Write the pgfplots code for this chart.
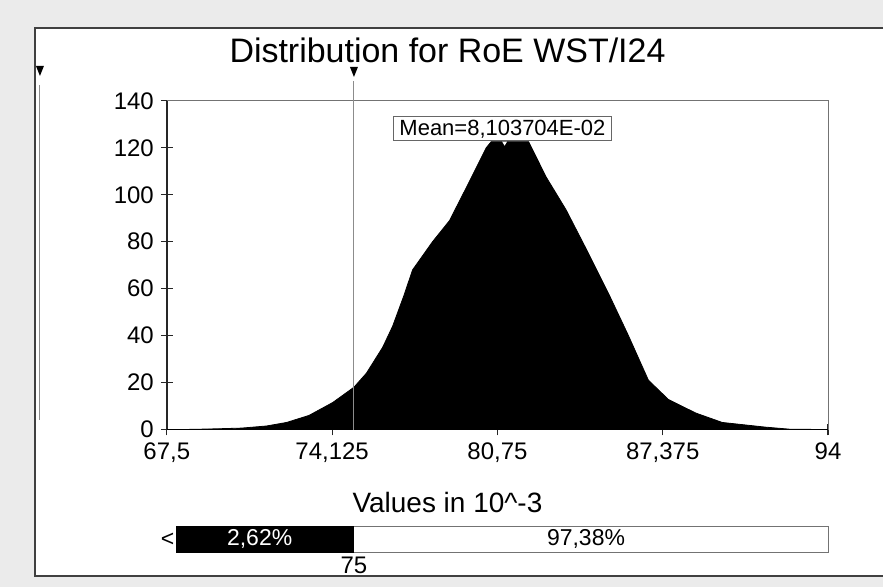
\documentclass[border=0pt]{standalone}
\usepackage{pgfplots}
\pgfplotsset{compat=1.18}
\usepackage{fontspec}
\setmainfont{Liberation Sans}
\begin{document}
\begin{tikzpicture}[x=0.5pt,y=0.5pt]
% background and window frame
\fill[black!8] (0,0) rectangle (884,588);
\fill[white] (35,11) rectangle (884,560);
\draw[black!75, line width=1pt] (884,560) -- (35,560) -- (35,11) -- (884,11);
% title
\node at (448,538) {\fontsize{17}{20}\selectfont Distribution for RoE WST/I24};
% left delimiter
\draw[black!45, line width=0.5pt] (40,503) -- (40,168);
\fill[black] (36,522) -- (44,522) -- (40,512) -- cycle;
% main axis
\begin{axis}[
  at={(83.5pt,79pt)}, anchor=south west,
  scale only axis, width=331pt, height=164.5pt,
  xmin=67.5, xmax=94, ymin=0, ymax=140,
  axis x line*=bottom, axis y line*=left,
  axis line style={black!85, line width=0.8pt},
  xtick={67.5,74.125,80.75,87.375,94},
  xticklabels={{67,5},{74,125},{80,75},{87,375},94},
  ytick={0,20,...,140},
  tick align=center, major tick length=6pt,
  tick style={black!85, line width=0.6pt},
  ticklabel style={font=\fontsize{12}{14}\selectfont},
  /pgf/number format/assume math mode=true,
  clip=false,
]
\addplot[fill=black, draw=black, line width=0.4pt] coordinates {
(67.5,0) (68.5,0.05) (69.5,0.3) (70.5,0.6) (71.5,1.5) (72.3,3) (73.2,6)
(74.15,11.5) (75.0,18) (75.5,24) (76.15,35) (76.55,44) (77.0,57) (77.35,68)
(78.15,80) (78.83,89) (79.5,103) (80.3,120) (80.5,122.6) (81.0,122.6)
(82.0,122.6) (82.7,107.6) (83.5,93.6) (84.4,75) (85.2,58) (86.0,40)
(86.8,21) (87.6,12.8) (88.7,7) (89.76,3) (91.5,1) (92.5,0.1) (94,0)
} \closedcycle;
% top and right frame lines
\draw[black!55, line width=0.5pt] (axis cs:67.5,140) -- (axis cs:94,140) -- (axis cs:94,0);
% delimiter at 75
\draw[black!45, line width=0.5pt] (axis cs:75,0) -- ([yshift=10pt]axis cs:75,140);
\fill[black] ([xshift=-2pt,yshift=17pt]axis cs:75,140) -- ([xshift=2pt,yshift=17pt]axis cs:75,140) -- ([yshift=12pt]axis cs:75,140) -- cycle;
% mean marker
\fill[white] ([xshift=-1.2pt]axis cs:81.037,122.6) -- ([xshift=1.2pt]axis cs:81.037,122.6) -- ([yshift=-2pt]axis cs:81.037,122.6) -- cycle;
\end{axis}
% mean label
\node[draw=black!60, fill=white, inner xsep=3pt, inner ysep=1.5pt, line width=0.5pt] at (503,459) {\fontsize{11}{13}\selectfont Mean=8,103704E-02};
% x label
\node at (448,85) {\fontsize{14}{16}\selectfont Values in 10\textasciicircum-3};
% percentile bar
\begin{axis}[
  at={(83.5pt,17.5pt)}, anchor=south west,
  scale only axis, width=331pt, height=13pt,
  xmin=67.5, xmax=94, ymin=0, ymax=1,
  hide axis, clip=false,
]
\addplot[fill=white, draw=black!55, line width=0.5pt] coordinates {(75,0) (94,0) (94,1) (75,1)} -- cycle;
\addplot[fill=black, draw=black, line width=0.5pt] coordinates {(67.9,0) (75,0) (75,1) (67.9,1)} -- cycle;
\node[text=white] at (axis cs:71.22,0.5) {\fontsize{11.5}{13}\selectfont 2,62\%};
\node at (axis cs:84.3,0.5) {\fontsize{11.5}{13}\selectfont 97,38\%};
\node[anchor=east, inner sep=1pt] at (axis cs:67.9,0.5) {\fontsize{11.5}{13}\selectfont <};
\node[anchor=north, inner sep=2pt] at (axis cs:75,0) {\fontsize{12}{14}\selectfont 75};
\end{axis}
\end{tikzpicture}
\end{document}
